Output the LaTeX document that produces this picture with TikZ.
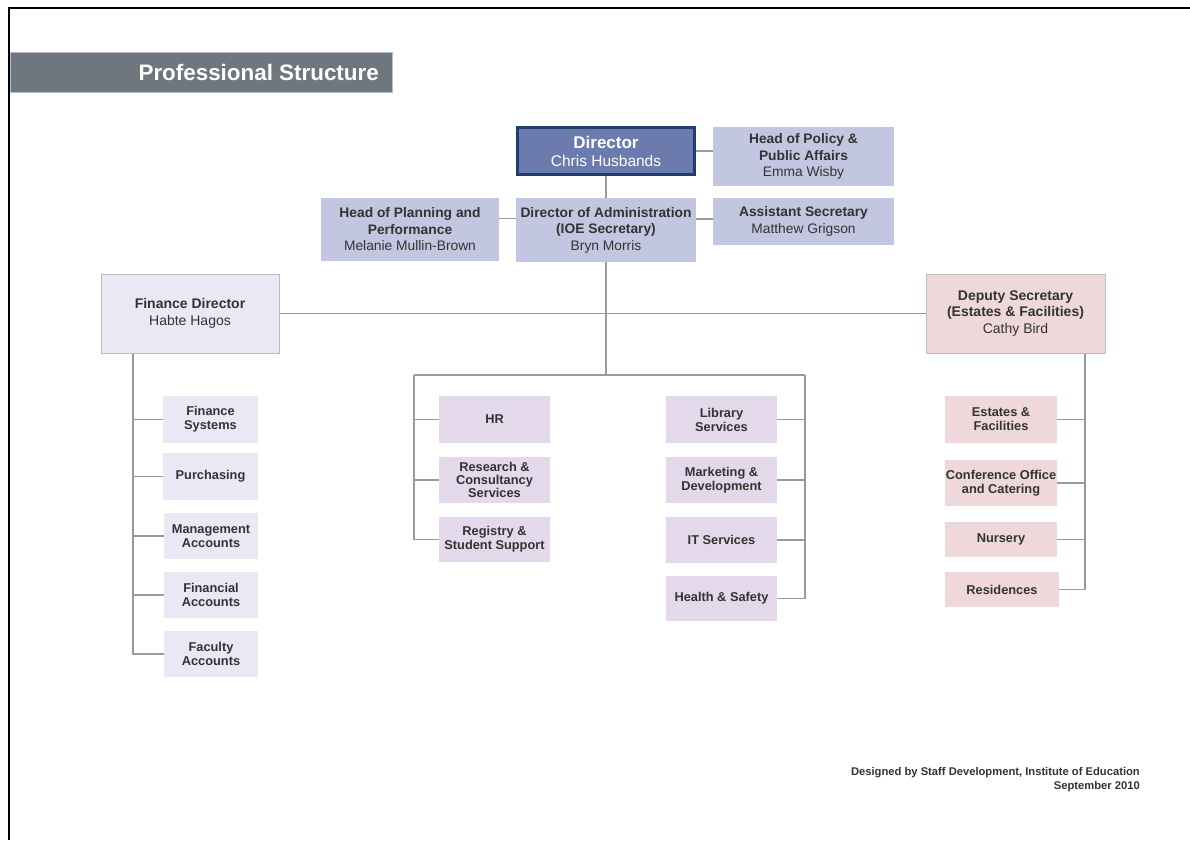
\documentclass[tikz,border=0pt]{standalone}
\usepackage{fontspec}
\setmainfont{Liberation Sans}
\definecolor{txt}{HTML}{333333}
\definecolor{lnk}{HTML}{9A9A9A}
\definecolor{titlebg}{HTML}{6F777E}
\definecolor{titleedge}{HTML}{B4BEC8}
\definecolor{dirfill}{HTML}{6B7BAD}
\definecolor{diredge}{HTML}{1E3E6E}
\definecolor{blue2}{HTML}{C2C6E0}
\definecolor{blue3}{HTML}{E8E9F5}
\definecolor{lav}{HTML}{E4D9EB}
\definecolor{pinkA}{HTML}{EFD8DB}
\definecolor{boxedge}{HTML}{BDBDBD}
\tikzset{
  basebox/.style={inner sep=0pt, align=center, text=txt, font=\fontsize{12.8}{14}\selectfont\bfseries},
  topbox/.style={basebox, fill=blue2, font=\fontsize{13.8}{16.5}\selectfont},
  chiefbox/.style={basebox, draw=boxedge, line width=0.8pt, font=\fontsize{14}{16.5}\selectfont},
  finbox/.style={basebox, fill=blue3},
  lavbox/.style={basebox, fill=lav},
  pinkbox/.style={basebox, fill=pinkA},
  link/.style={draw=lnk, line width=1.3pt},
}
\begin{document}
\begin{tikzpicture}[x=1pt,y=-1pt]
\useasboundingbox (0,0) rectangle (1190,840);
\fill[white] (0,0) rectangle (1190,840);
% frame
\draw[black, line width=2.5pt] (9,840) -- (9,8) -- (1190,8);
% title
\node[fill=titlebg, draw=titleedge, line width=0.6pt, minimum width=382, minimum height=40, inner sep=0pt] (title) at (201,72) {};
\node[anchor=east, text=white, inner sep=0pt, font=\fontsize{22.4}{25}\selectfont\bfseries] (titletext) at (379,72) {Professional Structure};

% top level
\node[basebox, fill=dirfill, draw=diredge, line width=3pt, minimum width=177, minimum height=47, text=white, font=\fontsize{17}{19}\selectfont] (dir) at (606,151) {\textbf{Director}\\[-1pt]{\fontsize{15.5}{17}\selectfont\mdseries Chris Husbands}};
\node[topbox, minimum width=181, minimum height=59] (hp) at (803.5,156.5) {\textbf{Head of Policy \&}\\\textbf{Public Affairs}\\{\mdseries Emma Wisby}};
\node[topbox, minimum width=180, minimum height=64] (doa) at (606,230) {\textbf{Director of Administration}\\\textbf{(IOE Secretary)}\\{\mdseries Bryn Morris}};
\node[topbox, minimum width=178, minimum height=63] (plan) at (410,229.5) {\textbf{Head of Planning and}\\\textbf{Performance}\\{\mdseries Melanie Mullin-Brown}};
\node[topbox, minimum width=181, minimum height=47] (asst) at (803.5,221.5) {\textbf{Assistant Secretary}\\{\mdseries Matthew Grigson}};

% chiefs
\node[chiefbox, fill=blue3, minimum width=178, minimum height=79] (fd) at (190,313.5) {\textbf{Finance Director}\\{\mdseries Habte Hagos}};
\node[chiefbox, fill=pinkA, minimum width=179, minimum height=79] (ds) at (1015.5,313.5) {\textbf{Deputy Secretary}\\\textbf{(Estates \& Facilities)}\\{\mdseries Cathy Bird}};

% finance units
\node[finbox, minimum width=95, minimum height=47] (fs) at (210.5,419.5) {Finance\\Systems};
\node[finbox, minimum width=95, minimum height=47] (pu) at (210.5,476.5) {Purchasing};
\node[finbox, minimum width=94, minimum height=46] (ma) at (211,536) {Management\\Accounts};
\node[finbox, minimum width=94, minimum height=46] (fa) at (211,595) {Financial\\Accounts};
\node[finbox, minimum width=94, minimum height=46] (fc) at (211,654) {Faculty\\Accounts};

% central units
\node[lavbox, minimum width=111, minimum height=47] (hr) at (494.5,419.5) {HR};
\node[lavbox, minimum width=111, minimum height=46, font=\fontsize{12.8}{13}\selectfont\bfseries] (rc) at (494.5,480) {Research \&\\Consultancy\\Services};
\node[lavbox, minimum width=111, minimum height=45] (rs) at (494.5,539.5) {Registry \&\\Student Support};
\node[lavbox, minimum width=111, minimum height=47] (lib) at (721.5,419.5) {Library\\Services};
\node[lavbox, minimum width=111, minimum height=46] (mk) at (721.5,480) {Marketing \&\\Development};
\node[lavbox, minimum width=111, minimum height=46] (it) at (721.5,540) {IT Services};
\node[lavbox, minimum width=111, minimum height=45] (hs) at (721.5,598.5) {Health \& Safety};

% estates units
\node[pinkbox, minimum width=112, minimum height=47] (ef) at (1001,419.5) {Estates \&\\Facilities};
\node[pinkbox, minimum width=112, minimum height=46] (co) at (1001,483) {Conference Office\\and Catering};
\node[pinkbox, minimum width=112, minimum height=35] (nu) at (1001,539.5) {Nursery};
\node[pinkbox, minimum width=114, minimum height=35] (re) at (1002,589.5) {Residences};

% footer
\node[anchor=north east, align=right, inner sep=0pt, text=txt, font=\fontsize{11.2}{14}\selectfont\bfseries] (foot) at (1140,767) {Designed by Staff Development, Institute of Education\\September 2010};

% coordinates
\coordinate (mL) at (414,375);
\coordinate (mR) at (805,375);
\coordinate (mC) at (606,375);
\coordinate (fv) at (133,353.5);
\coordinate (dv) at (1085,353.5);

% connectors
\draw[link] (dir.south) -- (doa.north);
\draw[link] (dir.east) -- (dir.east -| hp.west);
\draw[link] ([yshift=11pt]plan.east) -- ([yshift=11pt]plan.east -| doa.west);
\draw[link] ([yshift=11pt]doa.east) -- ([yshift=11pt]doa.east -| asst.west);
\draw[link] (doa.south) -- (mC);
\draw[link] (fd.east) -- (ds.west);
\draw[link] (mL) -- (mR);
\draw[link] (mL) |- (rs.west);
\draw[link] (hr.west) -- (hr.west -| mL);
\draw[link] (rc.west) -- (rc.west -| mL);
\draw[link] (mR) |- (hs.east);
\draw[link] (lib.east) -- (lib.east -| mR);
\draw[link] (mk.east) -- (mk.east -| mR);
\draw[link] (it.east) -- (it.east -| mR);
\draw[link] (fv) |- (fc.west);
\draw[link] (fs.west) -- (fs.west -| fv);
\draw[link] (pu.west) -- (pu.west -| fv);
\draw[link] (ma.west) -- (ma.west -| fv);
\draw[link] (fa.west) -- (fa.west -| fv);
\draw[link] (dv) |- (re.east);
\draw[link] (ef.east) -- (ef.east -| dv);
\draw[link] (co.east) -- (co.east -| dv);
\draw[link] (nu.east) -- (nu.east -| dv);
\end{tikzpicture}
\end{document}
